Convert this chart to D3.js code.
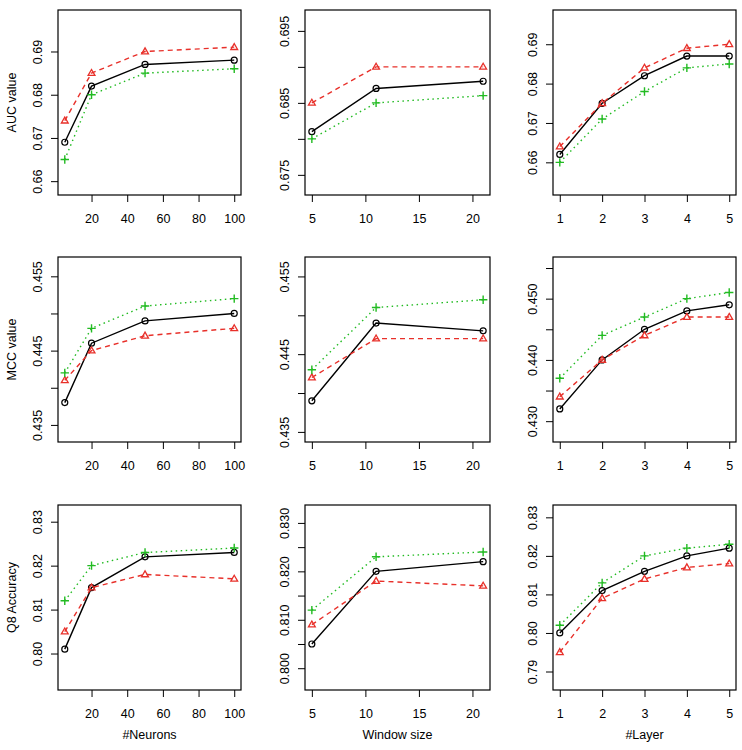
<!DOCTYPE html>
<html>
<head>
<meta charset="utf-8">
<script src="https://cdn.jsdelivr.net/npm/d3@7"></script>
<style>
  html, body { margin: 0; padding: 0; background: #fff; }
  svg text { font-family: "Liberation Sans", Arial, Helvetica, sans-serif; fill: #000; }
</style>
</head>
<body>
<svg id="chart" width="742" height="750"></svg>
<script>
// ---------- data ----------
const neurons = [5, 20, 50, 100];
const windowSizes = [5, 11, 21];
const layers = [1, 2, 3, 4, 5];

const rowLabels = ["AUC value", "MCC value", "Q8 Accuracy"];
const colLabels = ["#Neurons", "Window size", "#Layer"];

// AUC
const aucNeuronsBlack = [0.669, 0.682, 0.687, 0.688];
const aucNeuronsRed   = [0.674, 0.685, 0.690, 0.691];
const aucNeuronsGreen = [0.665, 0.680, 0.685, 0.686];
const aucWindowBlack  = [0.681, 0.687, 0.688];
const aucWindowRed    = [0.685, 0.690, 0.690];
const aucWindowGreen  = [0.680, 0.685, 0.686];
const aucLayerBlack   = [0.662, 0.675, 0.682, 0.687, 0.687];
const aucLayerRed     = [0.664, 0.675, 0.684, 0.689, 0.690];
const aucLayerGreen   = [0.660, 0.671, 0.678, 0.684, 0.685];
// MCC
const mccNeuronsBlack = [0.438, 0.446, 0.449, 0.450];
const mccNeuronsRed   = [0.441, 0.445, 0.447, 0.448];
const mccNeuronsGreen = [0.442, 0.448, 0.451, 0.452];
const mccWindowBlack  = [0.439, 0.449, 0.448];
const mccWindowRed    = [0.442, 0.447, 0.447];
const mccWindowGreen  = [0.443, 0.451, 0.452];
const mccLayerBlack   = [0.432, 0.440, 0.445, 0.448, 0.449];
const mccLayerRed     = [0.434, 0.440, 0.444, 0.447, 0.447];
const mccLayerGreen   = [0.437, 0.444, 0.447, 0.450, 0.451];
// Q8
const q8NeuronsBlack  = [0.801, 0.815, 0.822, 0.823];
const q8NeuronsRed    = [0.805, 0.815, 0.818, 0.817];
const q8NeuronsGreen  = [0.812, 0.820, 0.823, 0.824];
const q8WindowBlack   = [0.805, 0.820, 0.822];
const q8WindowRed     = [0.809, 0.818, 0.817];
const q8WindowGreen   = [0.812, 0.823, 0.824];
const q8LayerBlack    = [0.800, 0.811, 0.816, 0.820, 0.822];
const q8LayerRed      = [0.795, 0.809, 0.814, 0.817, 0.818];
const q8LayerGreen    = [0.802, 0.813, 0.820, 0.822, 0.823];

// axis limits (visible range) and ticks
const xLimNeurons = [1.2, 103.8];
const xLimWindow  = [4.36, 21.64];
const xLimLayer   = [0.84, 5.16];
const xTicksNeurons = [20, 40, 60, 80, 100];
const xTicksWindow  = [5, 10, 15, 20];
const xTicksLayer   = [1, 2, 3, 4, 5];

const yLimAucNeurons = [0.6568, 0.6996];
const yLimAucWindow  = [0.6722, 0.6979];
const yLimAucLayer   = [0.6517, 0.6987];
const yLimMccNeurons = [0.4327, 0.4576];
const yLimMccWindow  = [0.4337, 0.4575];
const yLimMccLayer   = [0.4266, 0.4568];
const yLimQ8Neurons  = [0.7917, 0.8338];
const yLimQ8Window   = [0.7955, 0.8337];
const yLimQ8Layer    = [0.7852, 0.8332];

const yTicksAucNeurons = [0.66, 0.67, 0.68, 0.69];
const yLabsAucNeurons  = ["0.66", "0.67", "0.68", "0.69"];
const yTicksAucWindow  = [0.675, 0.680, 0.685, 0.690, 0.695];
const yLabsAucWindow   = ["0.675", "", "0.685", "", "0.695"];
const yTicksAucLayer   = [0.66, 0.67, 0.68, 0.69];
const yLabsAucLayer    = ["0.66", "0.67", "0.68", "0.69"];
const yTicksMccNeurons = [0.435, 0.440, 0.445, 0.450, 0.455];
const yLabsMccNeurons  = ["0.435", "", "0.445", "", "0.455"];
const yTicksMccWindow  = [0.435, 0.440, 0.445, 0.450, 0.455];
const yLabsMccWindow   = ["0.435", "", "0.445", "", "0.455"];
const yTicksMccLayer   = [0.430, 0.435, 0.440, 0.445, 0.450, 0.455];
const yLabsMccLayer    = ["0.430", "", "0.440", "", "0.450", ""];
const yTicksQ8Neurons  = [0.80, 0.81, 0.82, 0.83];
const yLabsQ8Neurons   = ["0.80", "0.81", "0.82", "0.83"];
const yTicksQ8Window   = [0.800, 0.805, 0.810, 0.815, 0.820, 0.825, 0.830];
const yLabsQ8Window    = ["0.800", "", "0.810", "", "0.820", "", "0.830"];
const yTicksQ8Layer    = [0.79, 0.80, 0.81, 0.82, 0.83];
const yLabsQ8Layer     = ["0.79", "0.80", "0.81", "0.82", "0.83"];

// ---------- panels assembled from the arrays ----------
const colX = [neurons, windowSizes, layers];
const colXLim = [xLimNeurons, xLimWindow, xLimLayer];
const colXTicks = [xTicksNeurons, xTicksWindow, xTicksLayer];

const panelSeries = [
  [[aucNeuronsBlack, aucNeuronsRed, aucNeuronsGreen], [aucWindowBlack, aucWindowRed, aucWindowGreen], [aucLayerBlack, aucLayerRed, aucLayerGreen]],
  [[mccNeuronsBlack, mccNeuronsRed, mccNeuronsGreen], [mccWindowBlack, mccWindowRed, mccWindowGreen], [mccLayerBlack, mccLayerRed, mccLayerGreen]],
  [[q8NeuronsBlack, q8NeuronsRed, q8NeuronsGreen], [q8WindowBlack, q8WindowRed, q8WindowGreen], [q8LayerBlack, q8LayerRed, q8LayerGreen]]
];
const panelYLim = [
  [yLimAucNeurons, yLimAucWindow, yLimAucLayer],
  [yLimMccNeurons, yLimMccWindow, yLimMccLayer],
  [yLimQ8Neurons, yLimQ8Window, yLimQ8Layer]
];
const panelYTicks = [
  [[yTicksAucNeurons, yLabsAucNeurons], [yTicksAucWindow, yLabsAucWindow], [yTicksAucLayer, yLabsAucLayer]],
  [[yTicksMccNeurons, yLabsMccNeurons], [yTicksMccWindow, yLabsMccWindow], [yTicksMccLayer, yLabsMccLayer]],
  [[yTicksQ8Neurons, yLabsQ8Neurons], [yTicksQ8Window, yLabsQ8Window], [yTicksQ8Layer, yLabsQ8Layer]]
];

// ---------- layout & styles ----------
const boxX = [[58, 241], [305, 490], [553, 736]];
const boxY = [[10, 195], [257, 442], [505, 690]];
const seriesStyle = [
  { color: "#000000", dash: null, shape: "circle" },
  { color: "#e8302a", dash: "5,4", shape: "triangle" },
  { color: "#22bb22", dash: "1.5,3.5", shape: "plus" }
];
const FS = 12.5;

const svg = d3.select("#chart");

for (let r = 0; r < 3; r++) {
  for (let c = 0; c < 3; c++) {
    const x = d3.scaleLinear().domain(colXLim[c]).range(boxX[c]);
    const y = d3.scaleLinear().domain(panelYLim[r][c]).range([boxY[r][1], boxY[r][0]]);
    const g = svg.append("g");

    // x axis
    const xAxis = d3.axisBottom(x).tickValues(colXTicks[c]).tickSize(7).tickPadding(6).tickFormat(d3.format("d"));
    const gx = g.append("g").attr("transform", `translate(0,${boxY[r][1]})`).call(xAxis);
    gx.select(".domain").remove();
    gx.selectAll("line").attr("stroke", "#000");
    gx.selectAll("text").attr("font-size", FS).attr("dy", "1.2em")
      .style("font-family", "'Liberation Sans', Arial, sans-serif");

    // y axis
    const [yt, yl] = panelYTicks[r][c];
    const yAxis = d3.axisLeft(y).tickValues(yt).tickSize(7).tickFormat((d, i) => yl[i]);
    const gy = g.append("g").attr("transform", `translate(${boxX[c][0]},0)`).call(yAxis);
    gy.select(".domain").remove();
    gy.selectAll("line").attr("stroke", "#000");
    gy.selectAll("text")
      .attr("font-size", FS)
      .attr("x", null).attr("dy", null)
      .attr("text-anchor", "middle")
      .attr("dominant-baseline", "central")
      .attr("transform", "translate(-20,0) rotate(-90)")
      .style("font-family", "'Liberation Sans', Arial, sans-serif");

    // box
    g.append("rect")
      .attr("x", boxX[c][0]).attr("y", boxY[r][0])
      .attr("width", boxX[c][1] - boxX[c][0])
      .attr("height", boxY[r][1] - boxY[r][0])
      .attr("fill", "none").attr("stroke", "#000").attr("stroke-width", 1.2);

    // series
    panelSeries[r][c].forEach((vals, si) => {
      const st = seriesStyle[si];
      const pts = vals.map((v, i) => [x(colX[c][i]), y(v)]);
      g.append("path")
        .attr("d", d3.line()(pts))
        .attr("fill", "none")
        .attr("stroke", st.color)
        .attr("stroke-width", 1.4)
        .attr("stroke-dasharray", st.dash);
      pts.forEach(([px, py]) => {
        if (st.shape === "circle") {
          g.append("circle").attr("cx", px).attr("cy", py).attr("r", 3)
            .attr("fill", "none").attr("stroke", st.color).attr("stroke-width", 1.2);
        } else if (st.shape === "triangle") {
          const s = 3.6;
          g.append("path")
            .attr("d", `M${px},${py - s} L${px + s * 0.95},${py + s * 0.65} L${px - s * 0.95},${py + s * 0.65} Z`)
            .attr("fill", "none").attr("stroke", st.color).attr("stroke-width", 1.3);
        } else {
          const s = 4.2;
          g.append("path")
            .attr("d", `M${px - s},${py} L${px + s},${py} M${px},${py - s} L${px},${py + s}`)
            .attr("fill", "none").attr("stroke", st.color).attr("stroke-width", 1.4);
        }
      });
    });

    // y label (first column)
    if (c === 0) {
      const cy = (boxY[r][0] + boxY[r][1]) / 2;
      g.append("text")
        .attr("transform", `translate(12,${cy}) rotate(-90)`)
        .attr("text-anchor", "middle")
        .attr("dominant-baseline", "central")
        .attr("font-size", FS)
        .text(rowLabels[r]);
    }
    // x label (bottom row)
    if (r === 2) {
      g.append("text")
        .attr("x", (boxX[c][0] + boxX[c][1]) / 2)
        .attr("y", boxY[r][1] + 49)
        .attr("text-anchor", "middle")
        .attr("font-size", FS)
        .text(colLabels[c]);
    }
  }
}
</script>
</body>
</html>
